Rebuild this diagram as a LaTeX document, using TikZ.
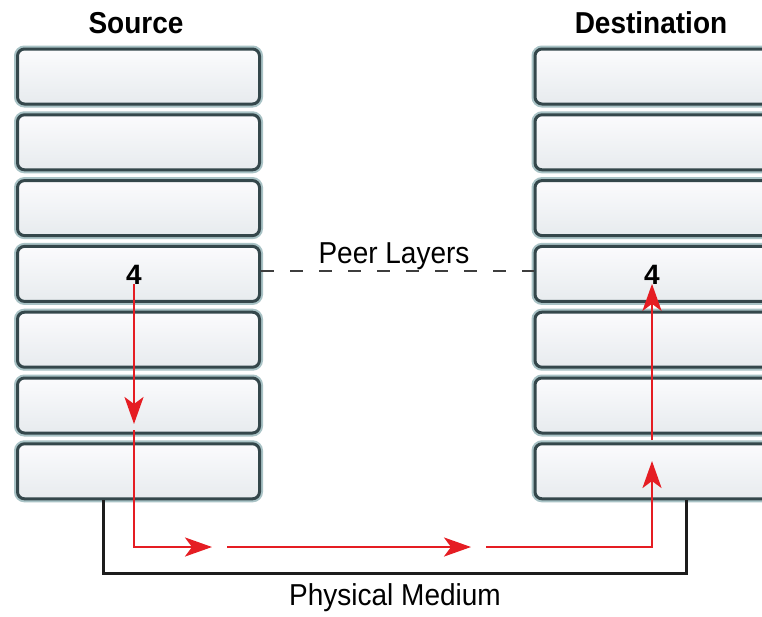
\documentclass[tikz,border=0pt]{standalone}
\usepackage{fontspec}
\setmainfont{Liberation Sans}
\usetikzlibrary{arrows.meta}
\definecolor{boxdark}{HTML}{34474B}
\definecolor{boxlight}{HTML}{A9C3C6}
\definecolor{boxfilltop}{HTML}{FBFBFD}
\definecolor{boxfillbot}{HTML}{E7EBEE}
\definecolor{flowred}{HTML}{E51D23}
\definecolor{wire}{HTML}{1C1C1C}
\tikzset{
  x=1pt, y=-1pt,
  layerbox/.style={rectangle, rounded corners=7pt, minimum height=55pt,
    top color=boxfilltop, bottom color=boxfillbot,
    draw=boxdark, line width=3pt,
    preaction={draw=boxlight, line width=7pt}},
  titlelbl/.style={font=\fontsize{28}{30}\selectfont\bfseries, inner sep=0pt},
  plainlbl/.style={font=\fontsize{28}{30}\selectfont, inner sep=0pt},
  numlbl/.style={font=\fontsize{28}{30}\selectfont\bfseries, inner sep=0pt},
  flow/.style={draw=flowred, line width=2.8pt},
  flowarrow/.style={flow, -{Stealth[length=27pt, width=19pt, inset=7pt]}},
  peer/.style={draw=wire!85, line width=2.8pt, dash pattern=on 13pt off 16pt},
  medium/.style={draw=wire, line width=3pt},
}
\begin{document}
\begin{tikzpicture}
\useasboundingbox (0,0) rectangle (762,616);
\clip (0,0) rectangle (762,616);
\fill[white] (0,0) rectangle (762,616);

% layer stacks
\foreach \i in {1,...,7} {
  \node[layerbox, minimum width=242pt] (s\i) at (138.5, {76.5 + 65.8*(\i-1)}) {};
  \node[layerbox, minimum width=265pt] (d\i) at (667.5, {76.5 + 65.8*(\i-1)}) {};
}

% titles and labels
\node[titlelbl, anchor=base] (srcT) at (136,33) {\scalebox{1}[1.08]{Source}};
\node[titlelbl, anchor=base] (dstT) at (651,33) {\scalebox{1}[1.08]{Destination}};
\node[numlbl] (s4n) at (134,275) {4};
\node[numlbl] (d4n) at (652,275) {4};
\node[plainlbl, anchor=base] (peerT) at (394,263) {\scalebox{1}[1.08]{Peer Layers}};
\node[plainlbl, anchor=base] (physT) at (395,605) {\scalebox{1}[1.08]{Physical Medium}};

% peer layer relation
\draw[peer] ([yshift=3pt]s4.east) -- ([yshift=3pt]d4.west);

% physical medium
\coordinate (phyL) at (103,573);
\coordinate (phyR) at (686,573);
\draw[medium] (s7.south -| phyL) -- (phyL) -- (phyR) -- (d7.south -| phyR);

% data flow down the source stack, across, and up the destination stack
\coordinate (sDownTip) at (134,424);
\coordinate (sResume) at (134,430);
\coordinate (sBend) at (134,547);
\coordinate (hTip1) at (212,547);
\coordinate (hStart2) at (227,547);
\coordinate (hTip2) at (471,547);
\coordinate (hStart3) at (486,547);
\coordinate (dBend) at (652,547);
\coordinate (dUpTip) at (652,461);
\coordinate (dResume) at (652,440);

\draw[flowarrow] ([yshift=1pt]s4n.south) -- (sDownTip);
\draw[flowarrow] (sResume) -- (sBend) -- (hTip1);
\draw[flowarrow] (hStart2) -- (hTip2);
\draw[flowarrow] (hStart3) -- (dBend) -- (dUpTip);
\draw[flowarrow] (dResume) -- ([yshift=1pt]d4n.south);
\end{tikzpicture}
\end{document}
